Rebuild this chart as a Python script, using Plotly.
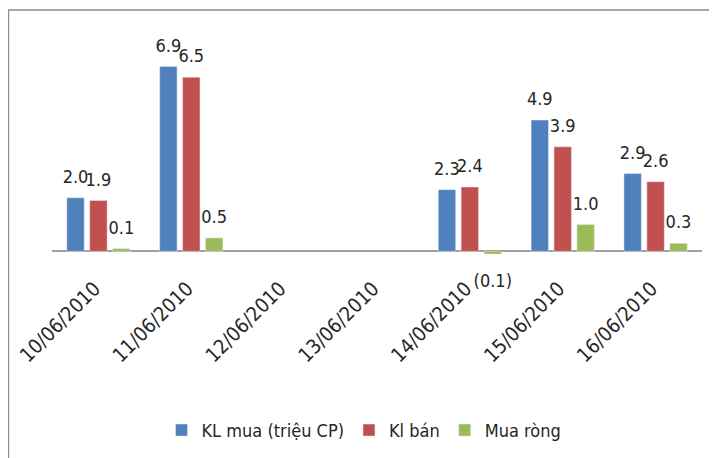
import plotly.graph_objects as go

dates = ["10/06/2010", "11/06/2010", "12/06/2010", "13/06/2010",
         "14/06/2010", "15/06/2010", "16/06/2010"]
kl_mua = [2.0, 6.9, None, None, 2.3, 4.9, 2.9]
kl_ban = [1.9, 6.5, None, None, 2.4, 3.9, 2.6]
mua_rong = [0.1, 0.5, None, None, -0.1, 1.0, 0.3]

series = [
    ("KL mua (triệu CP)", kl_mua, "#4F81BD"),
    ("Kl bán", kl_ban, "#C0504D"),
    ("Mua ròng", mua_rong, "#9BBB59"),
]

FONT = "Liberation Sans Narrow, DejaVu Sans Condensed, Arial, sans-serif"
TXT = "#262626"


def fmt(v):
    if v is None:
        return ""
    return f"({abs(v):.1f})" if v < 0 else f"{v:.1f}"


def is_neg(v):
    return v is not None and v < 0


fig = go.Figure()
for i, (name, vals, color) in enumerate(series):
    fig.add_trace(go.Bar(
        x=dates, y=vals, name=name, marker_color=color,
        offsetgroup=str(i), hoverinfo="skip",
    ))
for i, (name, vals, color) in enumerate(series):
    fig.add_trace(go.Scatter(
        x=dates, y=vals, mode="markers+text", showlegend=False,
        offsetgroup=str(i), hoverinfo="skip",
        marker=dict(size=[30 if is_neg(v) else 15 for v in vals], opacity=0),
        text=[fmt(v) for v in vals],
        textposition=["bottom center" if is_neg(v) else "top center" for v in vals],
        textfont=dict(family=FONT, size=18, color=TXT),
        cliponaxis=False,
    ))

fig.update_layout(
    width=717, height=458,
    margin=dict(l=44, r=23, t=29, b=208, autoexpand=False),
    paper_bgcolor="white", plot_bgcolor="white",
    barmode="group", bargap=0.26, bargroupgap=0.24,
    scattermode="group", scattergap=0.26,
    font=dict(family=FONT, color=TXT),
    showlegend=True,
    legend=dict(orientation="h", x=0.48, xanchor="center", y=-0.78, yanchor="middle",
                font=dict(family=FONT, size=18, color=TXT), traceorder="normal"),
    xaxis=dict(type="category", tickangle=-45, showgrid=False, showline=False,
               ticks="", tickfont=dict(family=FONT, size=20, color=TXT),
               ticklabelstandoff=14, ticklabelshift=-4, automargin=False),
    yaxis=dict(range=[-0.25, 8], showgrid=False, showticklabels=False, ticks="",
               zeroline=True, zerolinecolor="#A0A0A0", zerolinewidth=1.5,
               automargin=False),
    shapes=[dict(type="rect", xref="paper", yref="paper",
                 x0=-0.067, x1=1.06, y0=-1.0, y1=1.122,
                 line=dict(color="#8C8C8C", width=1.5), fillcolor="rgba(0,0,0,0)",
                 layer="below")],
)

fig.write_html("out.html")
